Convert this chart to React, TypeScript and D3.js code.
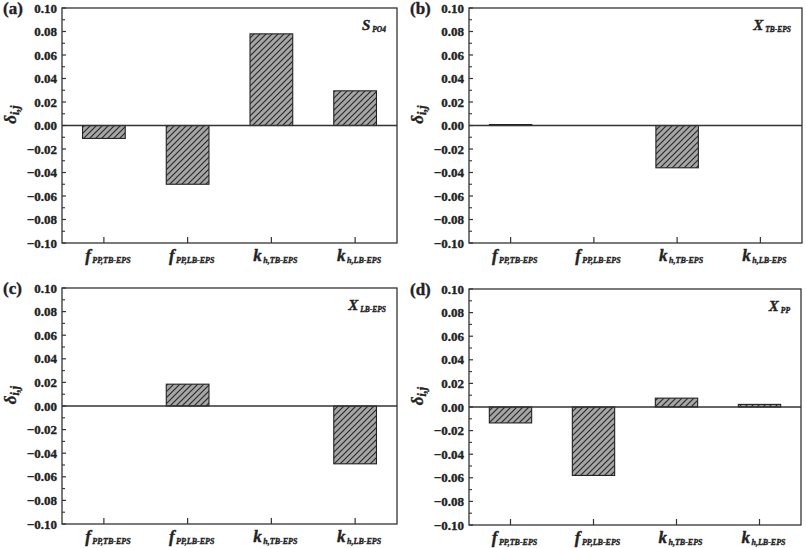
import React from "react";
import * as d3 from "d3";

const categoryMain = ["f", "f", "k", "k"];
const categorySub = ["PP,TB-EPS", "PP,LB-EPS", "h,TB-EPS", "h,LB-EPS"];
const panelLetters = ["(a)", "(b)", "(c)", "(d)"];
const panelVarMain = ["S", "X", "X", "X"];
const panelVarSub = ["PO4", "TB-EPS", "LB-EPS", "PP"];
const valuesA = [-0.011, -0.05, 0.078, 0.0295];
const valuesB = [0.0008, 0, -0.036, 0];
const valuesC = [0, 0.0185, 0, -0.049];
const valuesD = [-0.0135, -0.058, 0.0075, 0.0022];
const yTicks = [0.1, 0.08, 0.06, 0.04, 0.02, 0, -0.02, -0.04, -0.06, -0.08, -0.1];
const yMinor = [0.09, 0.07, 0.05, 0.03, 0.01, -0.01, -0.03, -0.05, -0.07, -0.09];

const seriesList = [valuesA, valuesB, valuesC, valuesD];
const frames = [
  { x0: 62, x1: 397, y0: 8, y1: 243 },
  { x0: 469, x1: 802, y0: 8, y1: 243 },
  { x0: 62, x1: 397, y0: 288, y1: 524 },
  { x0: 469, x1: 801, y0: 289, y1: 525 },
];

const FONT = "'Liberation Serif', 'Times New Roman', serif";
const AX = "#333";
const boldStroke = { stroke: "#222", strokeWidth: 0.35, paintOrder: "stroke" as const };

function Panel({ idx }: { idx: number }) {
  const f = frames[idx];
  const vals = seriesList[idx];
  const y = d3.scaleLinear().domain([-0.1, 0.1]).range([f.y1, f.y0]);
  const x = d3
    .scaleBand<number>()
    .domain(d3.range(vals.length))
    .range([f.x0, f.x1])
    .paddingInner(0.49)
    .paddingOuter(0.245);
  const fmt = d3.format(".2f");
  const yMid = y(0);
  return (
    <g>
      {vals.map((v, i) =>
        v === 0 ? null : (
          <rect
            key={i}
            x={x(i)!}
            y={Math.min(y(v), yMid)}
            width={x.bandwidth()}
            height={Math.abs(y(v) - yMid)}
            fill="url(#hatch)"
            stroke="#222"
            strokeWidth={1.1}
          />
        )
      )}
      <line x1={f.x0} x2={f.x1} y1={yMid} y2={yMid} stroke={AX} strokeWidth={1.3} />
      <rect x={f.x0} y={f.y0} width={f.x1 - f.x0} height={f.y1 - f.y0} fill="none" stroke={AX} strokeWidth={1.3} />
      {yTicks.map((t) => (
        <g key={"t" + t}>
          <line x1={f.x0} x2={f.x0 + 4} y1={y(t)} y2={y(t)} stroke={AX} strokeWidth={1.2} />
          <text
            x={f.x0 - 5}
            y={y(t)}
            dy="0.35em"
            textAnchor="end"
            fontFamily={FONT}
            fontWeight="bold"
            fontSize={13}
            fill="#222"
            {...boldStroke}
          >
            {fmt(t)}
          </text>
        </g>
      ))}
      {yMinor.map((t) => (
        <line key={"m" + t} x1={f.x0} x2={f.x0 + 3} y1={y(t)} y2={y(t)} stroke={AX} strokeWidth={1.1} />
      ))}
      {vals.map((_, i) => {
        const cx = x(i)! + x.bandwidth() / 2;
        return (
          <g key={"x" + i}>
            <line x1={cx} x2={cx} y1={f.y1} y2={f.y1 - 6} stroke={AX} strokeWidth={1.2} />
            <text
              x={cx + 4}
              y={f.y1 + 18}
              textAnchor="middle"
              fontFamily={FONT}
              fontWeight="bold"
              fontStyle="italic"
              fill="#222"
              {...boldStroke}
            >
              <tspan fontSize={17}>{categoryMain[i]}</tspan>
              <tspan fontSize={8} dx={1.5} dy={1.5}>
                {categorySub[i]}
              </tspan>
            </text>
          </g>
        );
      })}
      <text
        x={f.x1 - 11}
        y={f.y0 + 22}
        textAnchor="end"
        fontFamily={FONT}
        fontWeight="bold"
        fontStyle="italic"
        fill="#222"
        {...boldStroke}
      >
        <tspan fontSize={15}>{panelVarMain[idx]}</tspan>
        <tspan fontSize={7.5} dx={2} dy={1.5}>
          {panelVarSub[idx]}
        </tspan>
      </text>
      <text x={f.x0 - 59} y={f.y0 + 6} fontFamily={FONT} fontWeight="bold" fontSize={17} fill="#222" {...boldStroke}>
        {panelLetters[idx]}
      </text>
      <text
        transform={`translate(${f.x0 - 46},${yMid - 11}) rotate(-90)`}
        textAnchor="middle"
        fontFamily={FONT}
        fontWeight="bold"
        fontStyle="italic"
        fill="#222"
        {...boldStroke}
      >
        <tspan fontSize={17}>δ</tspan>
        <tspan fontSize={12} dy={3}>
          i,j
        </tspan>
      </text>
    </g>
  );
}

export default function App() {
  return (
    <div style={{ position: "absolute", left: 0, top: 0 }}>
      <svg width={806} height={548} style={{ display: "block", background: "#fff" }}>
        <defs>
          <pattern id="hatch" patternUnits="userSpaceOnUse" width={6} height={6}>
            <rect width={6} height={6} fill="#a6a6a6" />
            <path d="M0,6 L6,0 M-1,1 L1,-1 M5,7 L7,5" stroke="#2a2a2a" strokeWidth={1.2} />
          </pattern>
        </defs>
        {frames.map((_, i) => (
          <Panel key={i} idx={i} />
        ))}
      </svg>
    </div>
  );
}
